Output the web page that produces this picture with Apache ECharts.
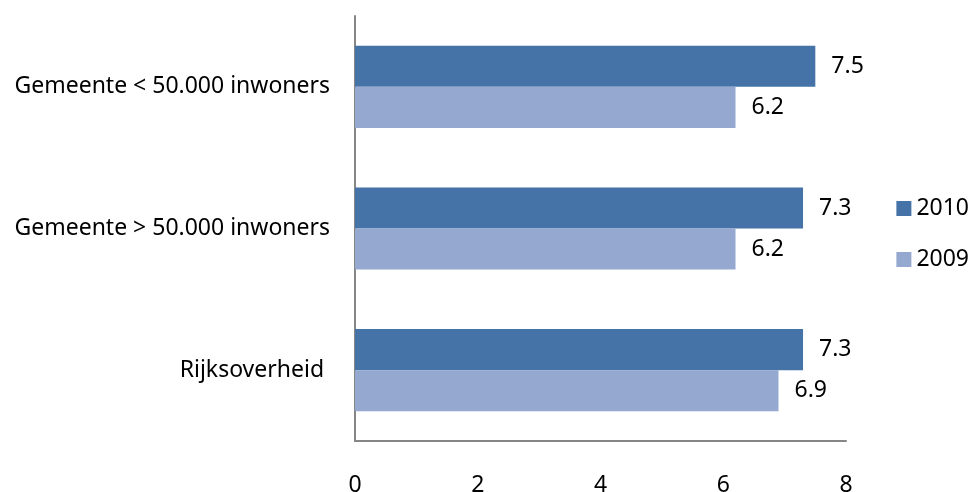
<!DOCTYPE html>
<html lang="nl">
  <head>
    <meta charset="UTF-8" />
    <script src="https://cdn.jsdelivr.net/npm/echarts@6/dist/echarts.min.js"></script>
    <title>Chart</title>
    <style>
      html, body { margin: 0; padding: 0; background: #fff; }
      #app { width: 979px; height: 492px; }
    </style>
  </head>
  <body>
    <div id="app"></div>
    <script>
      const categories = [
        "Gemeente < 50.000 inwoners",
        "Gemeente > 50.000 inwoners",
        "Rijksoverheid ",
      ];
      const values2010 = [7.5, 7.3, 7.3];
      const values2009 = [6.2, 6.2, 6.9];
      const xTicks = [0, 2, 4, 6, 8];

      const font = "Noto Sans";
      const fs = 23;
      const chart = echarts.init(document.getElementById("app"));

      const label = {
        show: true,
        position: "right",
        distance: 16,
        color: "#000",
        fontFamily: font,
        fontSize: fs,
        formatter: (p) => p.value.toFixed(1),
      };

      chart.setOption({
        animation: false,
        textStyle: { fontFamily: font },
        grid: {
          left: 355,
          right: 133,
          top: 16,
          bottom: 51,
          containLabel: false,
          outerBoundsMode: "none",
        },
        legend: {
          orient: "vertical",
          right: 5,
          top: 192,
          itemWidth: 15,
          itemHeight: 15,
          itemGap: 28,
          icon: "rect",
          textStyle: { fontFamily: font, fontSize: fs, color: "#000" },
          data: ["2010", "2009"],
        },
        xAxis: {
          type: "value",
          min: xTicks[0],
          max: xTicks[xTicks.length - 1],
          interval: 2,
          axisLine: { show: true, lineStyle: { color: "#868686", width: 2 } },
          axisTick: { show: false },
          splitLine: { show: false },
          axisLabel: { margin: 33, fontSize: fs, color: "#000", fontFamily: font },
        },
        yAxis: {
          type: "category",
          inverse: true,
          data: categories,
          axisLine: { show: true, lineStyle: { color: "#868686", width: 2 } },
          axisTick: { show: false },
          axisLabel: { margin: 25, fontSize: fs, color: "#000", fontFamily: font },
        },
        series: [
          {
            name: "2010",
            type: "bar",
            data: values2010,
            barGap: "0%",
            barCategoryGap: "42%",
            itemStyle: { color: "#4573a7" },
            label: label,
          },
          {
            name: "2009",
            type: "bar",
            data: values2009,
            itemStyle: { color: "#95a9d0" },
            label: label,
          },
        ],
      });
    </script>
  </body>
</html>
